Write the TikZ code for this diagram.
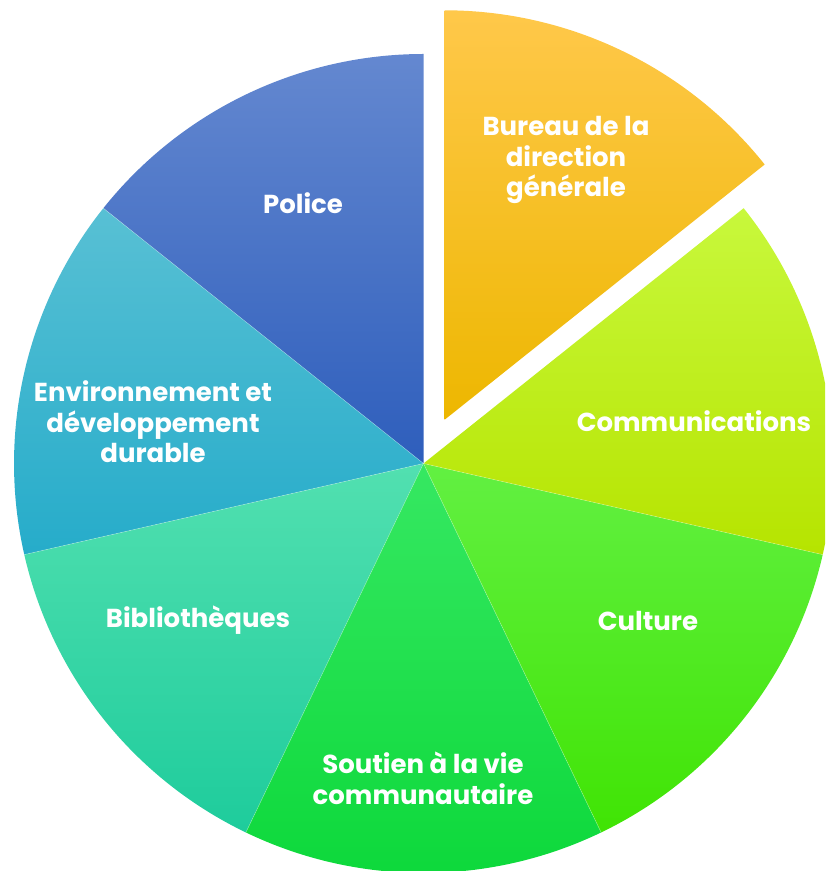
\documentclass[tikz,border=0pt]{standalone}
\usepackage{fontspec}
\setmainfont{Poppins}
\usetikzlibrary{calc}

% slice colours: top, middle, bottom of each gradient
\definecolor{bureauT}{HTML}{FFC84A}
\definecolor{bureauM}{HTML}{FFC608}
\definecolor{bureauB}{HTML}{EDB700}
\definecolor{commT}{HTML}{C8F83C}
\definecolor{commM}{HTML}{C0FE02}
\definecolor{commB}{HTML}{B6E400}
\definecolor{cultT}{HTML}{62F042}
\definecolor{cultM}{HTML}{50F028}
\definecolor{cultB}{HTML}{40E404}
\definecolor{soutT}{HTML}{36E862}
\definecolor{soutM}{HTML}{16E444}
\definecolor{soutB}{HTML}{0CD83A}
\definecolor{bibT}{HTML}{52E0B0}
\definecolor{bibM}{HTML}{30DCA8}
\definecolor{bibB}{HTML}{1ECC9C}
\definecolor{envT}{HTML}{58C0D4}
\definecolor{envM}{HTML}{36BCD6}
\definecolor{envB}{HTML}{26ACCA}
\definecolor{policeT}{HTML}{6488D0}
\definecolor{policeM}{HTML}{4372CA}
\definecolor{policeB}{HTML}{2E5EBC}

\tikzset{
  label/.style={text=white, font=\bfseries\fontsize{19.5}{23}\selectfont, align=center},
  seam/.style={white, line width=0.4pt, opacity=0.35}
}

\begin{document}
\begin{tikzpicture}[x=0.75pt,y=0.75pt]

  \useasboundingbox (0,0) rectangle (825,871);
  \clip (0,0) rectangle (825,871);

  % centre of the pie
  \coordinate (O) at (423.5,407.5);

  % one slice: apex, start angle, end angle, colour name
  \newcommand{\pieslice}[4]{%
    \shade[top color=#4T, middle color=#4M, bottom color=#4B]
      (#1) -- ++(#2:409.5) arc[start angle=#2, end angle=#3, radius=409.5] -- cycle;
  }

  % the six slices that stay in place
  \foreach \sa/\ea/\nm in {90/141.43/police, 141.43/192.86/env, 192.86/244.29/bib,
                           244.29/295.71/sout, 295.71/347.14/cult, 347.14/398.57/comm}
    {\pieslice{O}{\sa}{\ea}{\nm}}

  % thin seams between them
  \foreach \sa in {141.43,192.86,244.29,295.71,347.14}
    \draw[seam] (O) -- ++(\sa:409.5);

  % the pulled-out slice
  \coordinate (P) at ($(O)+(64.29:48.5)$);
  \pieslice{P}{38.57}{90}{bureau}

  % labels
  \node[label] (bureau) at (566,711) {Bureau de la\\direction\\générale};
  \node[label] (comm)   at (694,450) {Communications};
  \node[label] (cult)   at (648,250) {Culture};
  \node[label] (sout)   at (423,93)  {Soutien à la vie\\communautaire};
  \node[label] (bib)    at (198,251) {Bibliothèques};
  \node[label] (env)    at (153,449) {Environnement et\\développement\\durable};
  \node[label] (police) at (303,668) {Police};

\end{tikzpicture}
\end{document}
